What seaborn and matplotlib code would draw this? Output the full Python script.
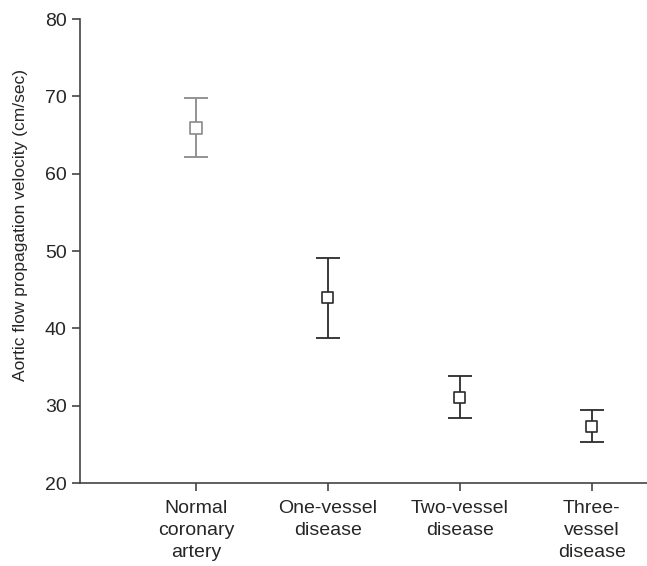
import matplotlib
matplotlib.use('Agg')
import matplotlib.pyplot as plt
import seaborn as sns
import pandas as pd

# values
groups = ['Normal\ncoronary\nartery', 'One-vessel\ndisease', 'Two-vessel\ndisease', 'Three-\nvessel\ndisease']
mean_vel = [65.9, 44.0, 31.1, 27.3]
upper = [69.8, 49.1, 33.8, 29.5]
lower = [62.1, 38.8, 28.4, 25.3]
point_colors = ['#8a8a8a', '#2b2b2b', '#2b2b2b', '#2b2b2b']

df = pd.DataFrame({'group': groups, 'velocity': mean_vel, 'hi': upper, 'lo': lower})

sns.set_style('ticks')
plt.rcParams['font.family'] = ['Liberation Sans', 'DejaVu Sans']

fig = plt.figure(figsize=(6.47, 5.66), dpi=100)
ax = fig.add_axes([80 / 647, 83 / 566, 1 - 80 / 647, (483 - 19) / 566])

# open square markers
sns.scatterplot(data=df, x='group', y='velocity', hue='group', palette=point_colors,
                marker='s', s=65, linewidth=1.2, legend=False, ax=ax, zorder=3)
pts = ax.collections[0]
pts.set_edgecolors(pts.get_facecolors())
pts.set_facecolors('white')

# error bars under the markers
for i, row in df.iterrows():
    ax.errorbar(i, row['velocity'],
                yerr=[[row['velocity'] - row['lo']], [row['hi'] - row['velocity']]],
                fmt='none', ecolor=point_colors[i], elinewidth=1.3, capsize=8.5, capthick=1.3, zorder=2)

ax.set_xlim(-0.88, 3.42)
ax.set_ylim(20, 80)
ax.set_yticks(range(20, 81, 10))
ax.set_xlabel('')
ax.set_ylabel('Aortic flow propagation velocity (cm/sec)', fontsize=12.5)
ax.yaxis.set_label_coords(-0.092, 0.556)
ax.tick_params(axis='both', labelsize=14, length=6, width=1.2, color='#444444')
ax.tick_params(axis='x', pad=6)
ax.set_xticks(range(len(groups)))
ax.set_xticklabels(groups, linespacing=1.4)

for s in ['top', 'right']:
    ax.spines[s].set_visible(False)
for s in ['left', 'bottom']:
    ax.spines[s].set_color('#444444')
    ax.spines[s].set_linewidth(1.2)

fig.savefig('out.png', dpi=100)
